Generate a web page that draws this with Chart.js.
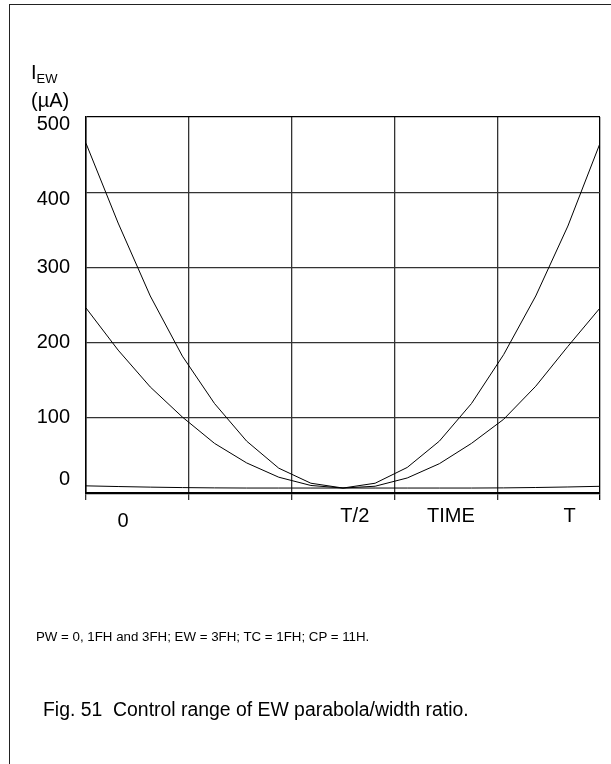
<!DOCTYPE html>
<html><head><meta charset="utf-8">
<script src="https://cdn.jsdelivr.net/npm/chart.js@4.4.1/dist/chart.umd.min.js"></script>
<style>
html,body{margin:0;padding:0;background:#fff;}
#page{position:relative;width:611px;height:764px;overflow:hidden;font-family:"Liberation Sans",Arial,sans-serif;color:#000;}
#frame{position:absolute;left:9px;top:4px;width:640px;height:800px;border-left:1.5px solid #222;border-top:1.5px solid #222;}
canvas{position:absolute;left:0;top:0;}
.t{position:absolute;white-space:nowrap;line-height:1;}
</style></head><body>
<div id="page">
<div id="frame"></div>
<canvas id="c" width="611" height="764"></canvas>
<div class="t" style="left:31px;top:62px;font-size:20px;">I<span style="font-size:13px;position:relative;top:4px;">EW</span></div>
<div class="t" style="left:31px;top:90px;font-size:20px;">(µA)</div>
<div class="t" style="left:36px;top:630px;font-size:13.3px;">PW = 0, 1FH and 3FH; EW = 3FH; TC = 1FH; CP = 11H.</div>
<div class="t" style="left:43px;top:700px;font-size:19.4px;">Fig. 51&nbsp; Control range of EW parabola/width ratio.</div>
</div>
<script>
// time, as a fraction of the line period T
const timeT = [0, 0.0625, 0.125, 0.1875, 0.25, 0.3125, 0.375, 0.4375, 0.5,
               0.5625, 0.625, 0.6875, 0.75, 0.8125, 0.875, 0.9375, 1];
// I_EW (uA) for PW = 0, 1FH, 3FH
const iPW0 = [9.5, 8.6, 7.8, 7.2, 6.8, 6.6, 6.6, 6.6, 6.6, 6.6, 6.6, 6.6, 6.6, 6.8, 7.3, 8.0, 8.9];
const iPW1 = [246, 190, 141, 101, 66, 40, 21, 10, 6.6, 9, 20, 39, 66, 98, 142, 195, 246];
const iPW3 = [465, 359, 262, 182, 119, 69, 33, 13, 6.6, 13, 34, 69, 119, 184, 262, 355, 465];
// axis ticks
const yTicks = [0, 100, 200, 300, 400, 500];
const xGrid = [0, 0.2, 0.4, 0.6, 0.8, 1];
const xLabelAt = [0.072, 0.523, 0.71, 0.941];
const xLabelText = ['0', 'T/2', 'TIME', 'T'];

const FAM = '"Liberation Sans", Arial, sans-serif';
const yNudge = {0: -14, 400: 7, 500: 7};
const xNudge = {0.072: 5};

const mk = (d) => ({
  data: timeT.map((t, i) => ({x: t, y: d[i]})),
  borderColor: '#000', borderWidth: 1, pointRadius: 0, tension: 0, fill: false
});

new Chart(document.getElementById('c'), {
  type: 'line',
  data: { datasets: [mk(iPW0), mk(iPW1), mk(iPW3)] },
  options: {
    responsive: false, animation: false, devicePixelRatio: 1,
    layout: { padding: { left: 0, top: 117, right: 11, bottom: 231 } },
    plugins: { legend: { display: false }, tooltip: { enabled: false } },
    scales: {
      x: {
        type: 'linear', min: 0, max: 1,
        afterBuildTicks: s => {
          s.ticks = xGrid.concat(xLabelAt).sort((a, b) => a - b).map(v => ({value: v}));
        },
        afterFit: s => { s.height = 40; },
        ticks: {
          autoSkip: false, maxRotation: 0, minRotation: 0, padding: 4, color: '#000',
          font: ctx => {
            const v = ctx.tick ? ctx.tick.value : null;
            const n = xNudge[v] || 0;
            return { family: FAM, size: 20, lineHeight: (24 + 2 * n) + 'px' };
          },
          callback: (v) => { const k = xLabelAt.indexOf(v); return k >= 0 ? xLabelText[k] : ''; }
        },
        grid: {
          color: ctx => {
            const v = ctx.tick ? ctx.tick.value : null;
            if (!xGrid.includes(v)) return 'rgba(0,0,0,0)';
            return v === 1 ? '#000' : '#333';
          },
          lineWidth: 1.3, tickLength: 7, drawTicks: true
        },
        border: { color: '#000', width: 2.2 }
      },
      y: {
        type: 'linear', min: 0, max: 500,
        afterBuildTicks: s => { s.ticks = yTicks.map(v => ({value: v})); },
        afterFit: s => { s.width = 86; },
        ticks: {
          padding: 16, color: '#000',
          font: ctx => {
            const v = ctx.tick ? ctx.tick.value : null;
            const n = Math.abs(yNudge[v] || 0);
            return { family: FAM, size: 20, lineHeight: n ? (2 * n) + 'px' : 1.2 };
          },
          callback: (v) => {
            const n = yNudge[v] || 0, s = String(v);
            if (n < 0) return [s, ''];
            if (n > 0) return ['', s];
            return s;
          }
        },
        grid: {
          color: ctx => (ctx.tick && ctx.tick.value === 500) ? '#000' : '#333',
          lineWidth: 1.3, drawTicks: false
        },
        border: { color: '#000', width: 1.5 }
      }
    }
  }
});
</script>
</body></html>
